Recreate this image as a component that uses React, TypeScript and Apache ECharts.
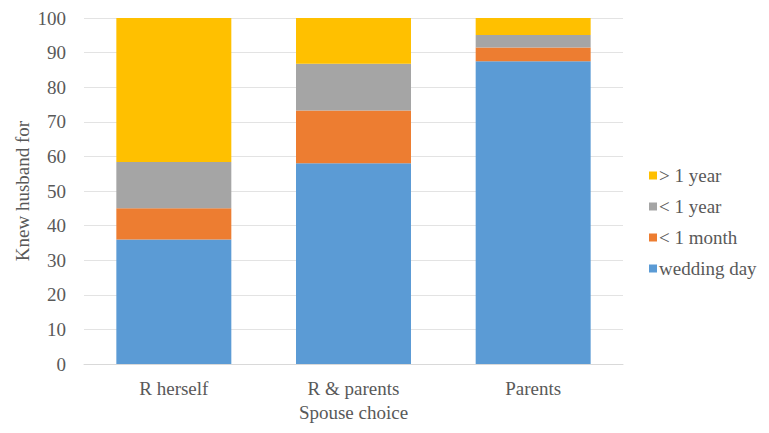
import React, { useEffect, useRef } from "react";
import * as echarts from "echarts";

const categories = ["R herself", "R & parents", "Parents"];
const weddingDay = [36, 58, 87.5];
const underMonth = [9, 15.3, 4];
const underYear = [13.4, 13.5, 3.6];
const overYear = [41.6, 13.2, 4.9];
const yTicks = [0, 10, 20, 30, 40, 50, 60, 70, 80, 90, 100];

const FONT = "'Liberation Serif', serif";
const TEXT = "#595959";
const SIZE = 19;

export default function App() {
  const ref = useRef<HTMLDivElement>(null);

  useEffect(() => {
    if (!ref.current) return;
    const chart = echarts.init(ref.current, undefined, { renderer: "svg" });
    const bar = (name: string, data: number[], color: string) => ({
      name,
      type: "bar",
      stack: "total",
      data,
      barCategoryGap: "36%",
      itemStyle: { color },
    });
    chart.setOption({
      animation: false,
      backgroundColor: "#ffffff",
      textStyle: { fontFamily: FONT },
      grid: { left: 84, right: 146, top: 18, bottom: 69 },
      legend: {
        orient: "vertical",
        left: 644,
        top: 161,
        itemWidth: 8,
        itemHeight: 8,
        itemGap: 12,
        icon: "rect",
        data: ["> 1 year", "< 1 year", "< 1 month", "wedding day"],
        textStyle: { fontFamily: FONT, fontSize: SIZE, color: TEXT, lineHeight: 19, padding: [0, 0, 0, -3] },
      },
      xAxis: {
        type: "category",
        data: categories,
        name: "Spouse choice",
        nameLocation: "middle",
        nameGap: 38,
        nameTextStyle: { fontFamily: FONT, fontSize: SIZE, color: TEXT },
        axisLine: { lineStyle: { color: "#d9d9d9" } },
        axisTick: { show: false },
        axisLabel: { fontFamily: FONT, fontSize: SIZE, color: TEXT, margin: 15 },
      },
      yAxis: {
        type: "value",
        min: yTicks[0],
        max: yTicks[yTicks.length - 1],
        interval: 10,
        name: "Knew husband for",
        nameLocation: "middle",
        nameGap: 52,
        nameMoveOverlap: false,
        nameTextStyle: { fontFamily: FONT, fontSize: SIZE, color: TEXT },
        axisLine: { show: false },
        axisTick: { show: false },
        axisLabel: { fontFamily: FONT, fontSize: SIZE, color: TEXT, margin: 18 },
        splitLine: { lineStyle: { color: "#e3e3e3" } },
      },
      series: [
        bar("wedding day", weddingDay, "#5b9bd5"),
        bar("< 1 month", underMonth, "#ed7d31"),
        bar("< 1 year", underYear, "#a5a5a5"),
        bar("> 1 year", overYear, "#ffc000"),
      ],
    });
    return () => chart.dispose();
  }, []);

  return <div ref={ref} style={{ width: 769, height: 433, margin: -8 }} />;
}
